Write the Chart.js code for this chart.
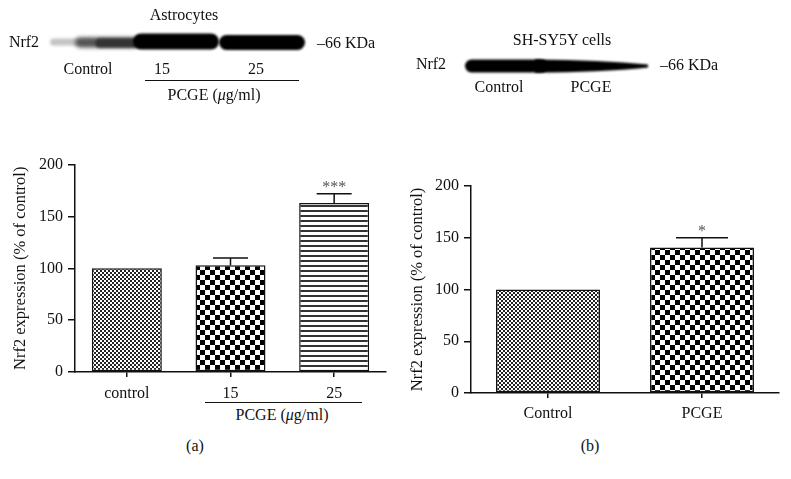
<!DOCTYPE html>
<html>
<head>
<meta charset="utf-8">
<script src="https://cdn.jsdelivr.net/npm/chart.js@4.4.0/dist/chart.umd.min.js"></script>
<style>
  body { margin: 0; background: #fff; }
  #wrap { position: relative; width: 791px; height: 479px; overflow: hidden;
          font-family: 'Liberation Serif', 'Times New Roman', serif; color: #111; }
  .t { position: absolute; font-size: 16px; line-height: 1; white-space: nowrap; transform: translate(-50%, -50%); }
  .rule { position: absolute; height: 0; border-top: 1.3px solid #111; }
  canvas { position: absolute; }
</style>
</head>
<body>
<div id="wrap">
  <canvas id="blots" width="791" height="110" style="left:0;top:0"></canvas>
  <canvas id="chartA" width="395" height="250" style="left:0;top:150px"></canvas>
  <canvas id="chartB" width="396" height="251" style="left:395px;top:170px"></canvas>

  <!-- blot (a) -->
  <div class="t" style="left:184px;top:15px">Astrocytes</div>
  <div class="t" style="left:24px;top:42px">Nrf2</div>
  <div class="t" style="left:346px;top:43px">–66 KDa</div>
  <div class="t" style="left:88px;top:69px">Control</div>
  <div class="t" style="left:162px;top:69px">15</div>
  <div class="t" style="left:256px;top:69px">25</div>
  <div class="rule" style="left:145px;top:80px;width:154px"></div>
  <div class="t" style="left:214px;top:95px">PCGE (<i>μ</i>g/ml)</div>

  <!-- blot (b) -->
  <div class="t" style="left:562px;top:40px">SH-SY5Y cells</div>
  <div class="t" style="left:431px;top:64px">Nrf2</div>
  <div class="t" style="left:689px;top:65px">–66 KDa</div>
  <div class="t" style="left:499px;top:87px">Control</div>
  <div class="t" style="left:591px;top:87px">PCGE</div>

  <!-- chart annotations -->
  <div class="rule" style="left:205px;top:402px;width:157px"></div>
  <div class="t" style="left:282px;top:415px">PCGE (<i>μ</i>g/ml)</div>
  <div class="t" style="left:195px;top:446px">(a)</div>
  <div class="t" style="left:590px;top:446px">(b)</div>
</div>

<script>
// values (% of control)
const catsA = ['control', '15', '25'];
const valsA = [100, 103, 163];
const errA = [0, 7, 9];
const sigA = ['', '', '***'];

const catsB = ['Control', 'PCGE'];
const valsB = [100, 140.5];
const errB = [0, 9.5];
const sigB = ['', '*'];

const yTicks = { min: 0, max: 200, step: 50 };

const INK = '#111';
const FONT = "'Liberation Serif', 'Times New Roman', serif";
const font = { family: FONT, size: 16 };

// ── fill patterns ────────────────────────────────────────────────────────────
function checker(cell, dark) {
  const c = document.createElement('canvas');
  c.width = c.height = cell * 2;
  const g = c.getContext('2d');
  g.fillStyle = '#fff'; g.fillRect(0, 0, cell * 2, cell * 2);
  g.fillStyle = dark;
  g.fillRect(0, 0, cell, cell); g.fillRect(cell, cell, cell, cell);
  return g.createPattern(c, 'repeat');
}
function stripes(period, thick, dark) {
  const c = document.createElement('canvas');
  c.width = 4; c.height = period;
  const g = c.getContext('2d');
  g.fillStyle = '#fff'; g.fillRect(0, 0, 4, period);
  g.fillStyle = dark; g.fillRect(0, 0, 4, thick);
  return g.createPattern(c, 'repeat');
}
const fine = checker(2, '#222');
const coarse = checker(5, '#000');
const lines = stripes(5, 2, '#333');

// error bars + significance marks, from the y scale
const errorBars = {
  id: 'errorBars',
  afterDatasetsDraw(chart, args, opts) {
    const { ctx, scales: { y } } = chart;
    const ds = chart.data.datasets[0];
    ctx.save();
    ctx.strokeStyle = INK; ctx.lineWidth = 1.5;
    ctx.fillStyle = '#555'; ctx.font = `16px ${FONT}`;
    ctx.textAlign = 'center'; ctx.textBaseline = 'alphabetic';
    chart.getDatasetMeta(0).data.forEach((bar, i) => {
      const e = opts.err[i];
      if (!e) return;
      const top = y.getPixelForValue(ds.data[i] + e);
      const half = bar.width / 4;
      ctx.beginPath();
      ctx.moveTo(bar.x, bar.y); ctx.lineTo(bar.x, top);
      ctx.moveTo(bar.x - half, top); ctx.lineTo(bar.x + half, top);
      ctx.stroke();
      if (opts.sig[i]) ctx.fillText(opts.sig[i], bar.x, top - 2);
    });
    ctx.restore();
  },
};

function barChart(id, labels, vals, err, sig, fills, { yWidth, pad, titlePad, xPad }) {
  return new Chart(document.getElementById(id), {
    type: 'bar',
    data: {
      labels,
      datasets: [{
        data: vals, backgroundColor: fills, borderColor: INK, borderWidth: 1.5,
        borderSkipped: false, categoryPercentage: 1, barPercentage: 0.675,
      }],
    },
    options: {
      responsive: false, animation: false, devicePixelRatio: 1,
      layout: { padding: pad },
      plugins: { legend: { display: false }, tooltip: { enabled: false }, errorBars: { err, sig } },
      scales: {
        x: {
          grid: { offset: false, drawOnChartArea: false, tickLength: 5, color: INK, lineWidth: 1.5 },
          border: { color: INK, width: 1.5 },
          ticks: { color: INK, font, padding: xPad, maxRotation: 0 },
          afterFit: s => { s.height = 28; },
        },
        y: {
          min: yTicks.min, max: yTicks.max,
          grid: { drawOnChartArea: false, tickLength: 7, color: INK, lineWidth: 1.5 },
          border: { color: INK, width: 1.5 },
          ticks: { stepSize: yTicks.step, color: INK, font, padding: 5 },
          title: { display: true, text: 'Nrf2 expression (% of control)', color: INK,
                   font: { family: FONT, size: 16.5 }, padding: { top: titlePad, bottom: 0 } },
          afterFit: s => { s.width = yWidth; },
        },
      },
    },
    plugins: [errorBars],
  });
}

barChart('chartA', catsA, valsA, errA, sigA, [fine, coarse, lines],
  { yWidth: 75, pad: { top: 14, right: 9, left: 0, bottom: 0 }, titlePad: 11, xPad: 7 });
barChart('chartB', catsB, valsB, errB, sigB, [fine, coarse],
  { yWidth: 76, pad: { top: 16, right: 12, left: 0, bottom: 0 }, titlePad: 13, xPad: 6 });

// ── western blot bands (picture, not data) ──────────────────────────────────
const g = document.getElementById('blots').getContext('2d');
function band(x0, x1, yc, h, color, blur) {
  g.save();
  g.filter = `blur(${blur}px)`;
  g.fillStyle = color;
  g.beginPath();
  g.roundRect(x0, yc - h / 2, x1 - x0, h, h / 2);
  g.fill();
  g.restore();
}
band(50, 95, 42, 7, '#c4c4c4', 1.8);
band(75, 140, 42.5, 10, '#555', 2);
band(95, 138, 43, 9, '#333', 1.8);
band(133, 219, 41.5, 16, '#000', 1.2);
band(219, 305, 42.5, 15, '#000', 1.2);

band(465, 548, 66, 13, '#000', 1);
g.save();
g.filter = 'blur(1px)';
g.fillStyle = '#000';
g.beginPath();
g.moveTo(535, 59.5);
g.quadraticCurveTo(600, 60, 648, 64.5);
g.lineTo(648, 67.5);
g.quadraticCurveTo(600, 72.5, 535, 72.5);
g.closePath();
g.fill();
g.restore();
</script>
</body>
</html>
